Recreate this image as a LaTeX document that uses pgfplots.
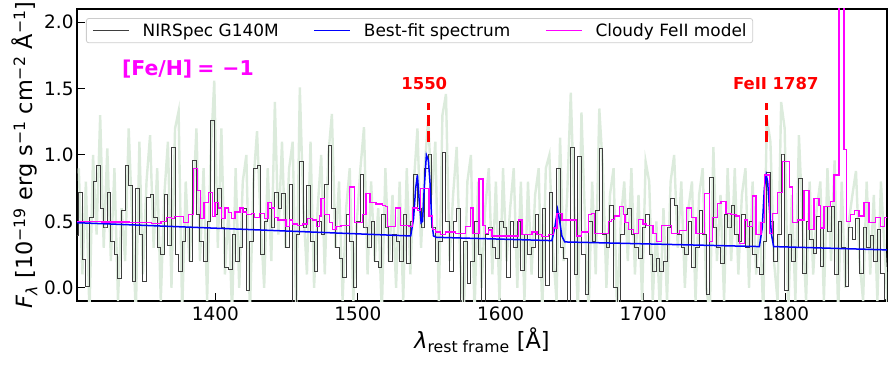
\documentclass[border=0pt]{standalone}
\usepackage{fontspec}
\setmainfont{DejaVu Sans}
\usepackage{pgfplots}
\pgfplotsset{compat=1.18}
\usepackage{pgfplotstable}

\definecolor{specgray}{RGB}{62,62,62}
\definecolor{errgreen}{RGB}{220,235,220}
\definecolor{leggray}{RGB}{204,204,204}
\definecolor{mag}{RGB}{255,0,255}
\definecolor{pureblue}{RGB}{0,0,255}
\definecolor{purered}{RGB}{255,0,0}

\pgfplotstableread{
f
0.39
0.72
0.21
0.01
0.53
0.80
0.92
0.60
0.45
0.72
0.35
0.25
0.07
0.58
0.92
0.77
0.05
0.75
0.40
0.05
0.68
0.70
0.53
0.30
0.25
0.70
0.32
1.06
0.25
0.12
0.35
0.45
0.20
0.96
0.55
0.35
0.20
0.50
1.26
0.55
0.75
0.45
0.15
0.14
0.40
0.20
0.30
0.60
-0.02
0.35
0.90
0.92
0.25
0.50
0.60
0.45
0.72
0.60
0.71
0.30
0.78
-0.20
0.40
0.95
0.45
0.77
0.35
0.12
0.50
0.40
0.78
1.07
0.60
0.30
0.22
0.08
0.55
0.35
0.00
0.50
0.85
0.45
0.30
0.50
0.20
0.15
0.55
0.45
0.20
0.40
0.35
0.20
0.55
0.18
0.50
0.85
0.60
0.45
0.90
1.00
0.45
0.20
0.35
1.02
0.50
0.12
0.50
0.60
-0.20
0.35
0.03
0.20
0.50
0.25
-0.20
0.40
0.45
0.30
0.22
0.50
0.45
0.08
0.50
0.30
0.50
0.13
0.40
0.25
0.30
0.55
0.08
0.60
0.02
0.72
0.12
0.90
0.30
0.22
-0.20
1.06
0.10
0.99
0.25
-0.05
0.50
0.35
0.58
1.05
0.40
0.30
0.62
0.00
-0.20
0.40
0.55
0.60
0.40
0.30
0.22
0.45
0.55
0.25
0.12
0.22
0.12
0.20
0.45
0.67
0.62
0.40
0.30
0.25
0.50
0.15
0.30
0.58
0.40
-0.05
0.83
0.45
0.30
0.18
0.55
0.45
0.62
0.40
0.35
0.55
0.30
0.50
0.25
0.15
0.10
0.35
0.87
0.50
0.20
0.40
1.00
-0.02
0.40
0.20
0.30
0.82
0.11
0.50
0.36
0.26
0.54
0.16
0.61
0.42
0.61
0.10
0.50
0.30
0.01
0.45
0.36
0.52
0.11
0.45
0.30
0.39
0.20
0.44
0.11
-0.09
}\grayspec

\pgfplotstableread{
g
0.9
0.1
0.8
-0.2
1.0
0.4
1.3
0.3
1.05
0.2
0.9
-0.1
0.6
0.2
1.2
0.5
-0.2
1.1
0.1
0.8
1.15
0.3
0.9
-0.1
0.7
1.1
0.0
1.2
1.33
-0.2
0.8
0.2
0.6
1.2
0.2
0.9
-0.1
1.0
1.56
0.3
1.2
0.1
0.6
-0.2
0.9
0.0
0.8
1.0
-0.2
0.8
1.18
0.5
0.0
0.9
0.2
1.4
0.4
1.1
0.3
0.9
1.1
-0.2
1.51
0.6
0.1
1.1
0.0
0.6
1.0
0.1
1.0
1.31
0.3
0.8
-0.1
0.6
0.9
-0.1
0.5
0.9
1.21
0.1
0.8
0.2
0.6
-0.2
0.9
0.2
0.7
0.0
0.8
-0.1
0.9
0.1
0.8
1.2
0.3
0.9
1.27
0.7
1.1
-0.1
1.3
1.46
0.2
0.7
1.06
0.2
-0.2
0.8
1.0
-0.2
0.8
0.0
0.6
0.9
0.1
0.8
-0.1
0.9
0.2
0.6
0.9
0.0
0.8
-0.1
0.8
0.1
0.7
0.9
-0.2
0.9
1.0
0.3
-0.1
1.13
0.2
0.7
1.47
0.6
-0.2
1.32
0.5
-0.2
0.8
0.1
1.35
0.9
0.0
0.7
0.9
-0.2
0.5
0.8
0.2
0.9
0.1
0.7
-0.1
0.95
0.8
-0.1
0.5
-0.2
0.6
-0.1
0.8
1.0
0.3
0.8
0.0
0.6
0.8
-0.1
0.7
0.9
0.0
-0.2
1.06
0.2
0.7
-0.1
0.9
0.2
0.9
0.1
0.7
0.9
0.0
0.8
0.1
0.5
-0.2
1.28
1.1
0.2
-0.1
1.4
1.2
-0.2
0.7
-0.1
1.15
0.5
-0.1
0.8
0.1
0.6
0.8
-0.1
0.9
0.2
0.96
-0.2
0.8
0.0
0.5
0.7
0.88
0.2
-0.1
0.8
0.1
0.7
-0.1
0.8
0.3
-0.2
}\greenspec

\begin{document}
\begin{tikzpicture}
\begin{axis}[
  at={(0,0)}, anchor=south west,
  scale only axis, width=810bp, height=292bp,
  xmin=1303, xmax=1871, ymin=-0.1, ymax=2.1,
  xtick={1400,1500,1600,1700,1800},
  ytick={0,0.5,1,1.5,2},
  /pgf/number format/assume math mode=true,
  xticklabel style={/pgf/number format/1000 sep={}, yshift=-2bp},
  yticklabel style={/pgf/number format/.cd, fixed, fixed zerofill, precision=1},
  tick align=inside, tick pos=left,
  major tick length=8bp,
  every tick/.style={black, line width=1bp},
  axis line style={line width=1.1bp},
  tick label style={font=\fontsize{18.5}{20}\selectfont},
  label style={font=\fontsize{22.5}{25}\selectfont},
  xlabel={{\itshape λ}\textsubscript{rest frame} [Å]},
  ylabel={{\itshape F}\textsubscript{\itshape λ} [10\textsuperscript{−19} erg s\textsuperscript{−1} cm\textsuperscript{−2} Å\textsuperscript{−1}]},
  legend columns=3,
  legend cell align=left,
  legend style={
    at={(axis description cs:0.0111,0.969)}, anchor=north west,
    draw=leggray, line width=0.8bp, rounded corners=2.5bp,
    fill=white, fill opacity=0.8, text opacity=1,
    inner xsep=6bp, inner ysep=3bp,
    font=\fontsize{17}{20}\selectfont,
    nodes={inner xsep=0bp, inner ysep=2bp},
    /tikz/every odd column/.style={column sep=13bp},
    /tikz/every even column/.style={column sep=35bp},
  },
  legend image code/.code={\draw[#1, line width=1.2bp] (0bp,0bp) -- (36bp,0bp);},
]
\addplot[errgreen, line width=2.4bp, sharp plot, forget plot] table[x expr={1304.25+2.5*\coordindex}, y=g] {\greenspec};
\addplot[specgray, line width=1bp, const plot mark mid] table[x expr={1303+2.5*\coordindex}, y=f] {\grayspec};
\addlegendentry{NIRSpec G140M}
\addplot[pureblue, line width=1.5bp] coordinates {
(1303,0.49) (1537,0.39) (1539,0.52) (1540.5,0.75) (1541.7,0.85) (1543,0.65) (1544.3,0.49) (1545.3,0.5) (1546.5,0.75) (1548,1.0) (1549.4,0.96) (1550.5,0.8) (1551.8,0.5) (1553,0.39) (1555,0.38) (1636,0.355) (1638,0.45) (1640,0.59) (1641.5,0.5) (1643,0.39) (1645,0.345) (1781.5,0.31) (1783.5,0.45) (1785,0.75) (1786.3,0.85) (1787.3,0.8) (1788.5,0.6) (1790,0.4) (1791.5,0.31) (1871,0.285)
};
\addlegendentry{Best-fit spectrum}
\addplot[mag, line width=1.3bp, const plot mark left] coordinates {
(1303,0.50) (1320,0.495) (1340,0.49) (1355,0.482) (1362,0.50) (1366,0.53) (1369.5,0.52) (1371.5,0.535) (1375.2,0.535) (1377.5,0.49) (1381,0.55) (1384.5,0.90) (1387.3,0.735) (1389.6,0.52) (1392,0.64) (1395,0.72) (1398.1,0.535) (1399.7,0.64) (1402,0.60) (1404.4,0.52) (1406.7,0.60) (1409,0.565) (1411.4,0.52) (1413.7,0.57) (1417.2,0.60) (1419.5,0.57) (1421.9,0.55) (1425.4,0.56) (1427.7,0.53) (1431.2,0.56) (1434.7,0.52) (1437,0.64) (1439.4,0.60) (1441.7,0.53) (1444,0.51) (1447.3,0.51) (1449.6,0.46) (1452,0.51) (1454.3,0.48) (1457.8,0.47) (1461.3,0.48) (1464.8,0.52) (1468.3,0.51) (1470.7,0.46) (1473,0.54) (1474.2,0.67) (1476.5,0.55) (1480,0.49) (1482.3,0.44) (1484.7,0.46) (1488.2,0.47) (1491.7,0.47) (1494,0.76) (1497.5,0.49) (1503.3,0.55) (1505.7,0.71) (1508.5,0.64) (1512.7,0.63) (1517.3,0.62) (1519.5,0.61) (1520.7,0.46) (1526.5,0.60) (1530,0.47) (1535.8,0.46) (1538.2,0.60) (1541.7,0.58) (1544,0.75) (1549.9,0.54) (1552.2,0.44) (1554.5,0.42) (1558,0.40) (1561.5,0.42) (1568.5,0.41) (1575.5,0.46) (1579,0.60) (1580.7,0.41) (1584.9,0.82) (1587.7,0.47) (1589.6,0.41) (1591.6,0.435) (1594,0.39) (1612.6,0.51) (1615,0.40) (1622,0.42) (1625.5,0.40) (1629,0.385) (1633.6,0.40) (1637.1,0.45) (1639.5,0.56) (1643,0.51) (1653.5,0.39) (1657,0.42) (1661.7,0.55) (1663.8,0.56) (1666.1,0.41) (1675.5,0.50) (1677.8,0.515) (1680.1,0.54) (1683.6,0.61) (1686,0.55) (1687.2,0.49) (1689.5,0.44) (1693,0.41) (1696.5,0.515) (1700,0.48) (1702.3,0.47) (1707,0.41) (1709.3,0.35) (1712.8,0.47) (1719.8,0.41) (1725.7,0.43) (1730.3,0.60) (1733.8,0.53) (1737.1,0.41) (1742.9,0.71) (1746.4,0.35) (1748.7,0.53) (1752.2,0.635) (1754.6,0.65) (1758.1,0.56) (1761.6,0.55) (1765.1,0.54) (1767.4,0.335) (1770.9,0.51) (1773.3,0.46) (1776.8,0.69) (1779.1,0.40) (1782.6,0.49) (1784.9,0.85) (1788.4,0.41) (1790.8,0.56) (1794.3,0.72) (1797.8,0.95) (1802.4,0.76) (1804.8,0.49) (1808.1,0.51) (1812.8,0.73) (1816.3,0.44) (1819.8,0.67) (1823.3,0.62) (1824.4,0.45) (1826.8,0.61) (1831.5,0.65) (1833.8,0.85) (1837.3,3.0) (1840.8,1.04) (1842.7,0.50) (1845.5,0.55) (1848.3,0.58) (1851.3,0.54) (1854.8,0.64) (1858.3,0.49) (1863,0.53) (1866.5,0.46) (1869.3,0.53) (1872,0.53)
};
\addlegendentry{Cloudy FeII model}
\addplot[purered, line width=3bp, dash pattern=on 11bp off 5bp, forget plot] coordinates {(1549.4,1.095) (1549.4,1.39)};
\addplot[purered, line width=3bp, dash pattern=on 11bp off 5bp, forget plot] coordinates {(1786.8,1.095) (1786.8,1.39)};
\node[text=purered, font=\bfseries\fontsize{16.5}{18}\selectfont] at (axis cs:1546.5,1.54) {1550};
\node[text=purered, font=\bfseries\fontsize{16.5}{18}\selectfont] at (axis cs:1793.0,1.54) {FeII 1787};
\node[text=mag, anchor=west, inner sep=0pt, font=\bfseries\fontsize{20.5}{22}\selectfont] at (axis cs:1334.5,1.65) {[Fe/H]\hspace{5bp}=\hspace{8bp}−1};
\end{axis}
\pgfresetboundingbox
\path[use as bounding box] (-77bp,-67bp) rectangle (819bp,301bp);
\end{tikzpicture}
\end{document}
